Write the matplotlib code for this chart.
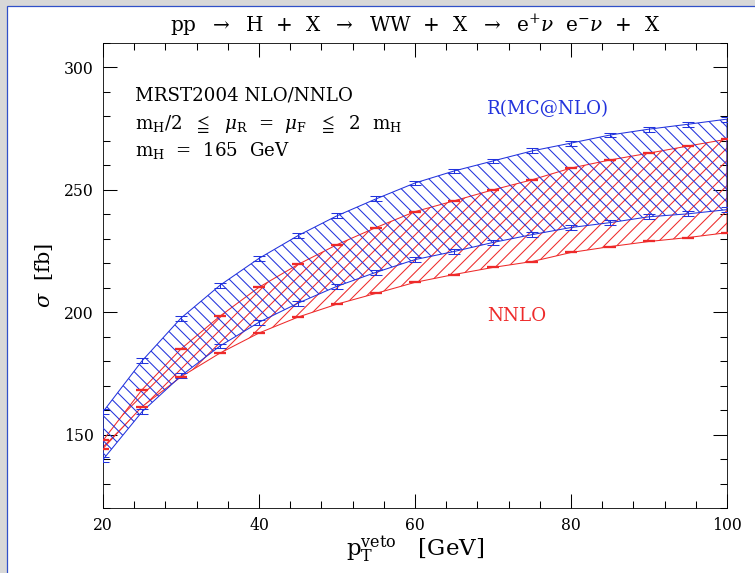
import matplotlib
matplotlib.use("Agg")
import matplotlib.pyplot as plt
from matplotlib.patches import Rectangle

# pT veto values (GeV)
ptveto = [20, 25, 30, 35, 40, 45, 50, 55, 60, 65, 70, 75, 80, 85, 90, 95, 100]

# R(MC@NLO) band (fb)
mc_hi = [159.3, 180.1, 197.6, 211.0, 222.0, 231.3, 239.4, 246.3, 252.8, 257.7,
         261.8, 265.9, 269.1, 272.4, 274.8, 276.8, 278.9]
mc_lo = [139.8, 159.3, 174.0, 186.2, 195.9, 203.7, 210.6, 216.3, 221.5, 224.8,
         228.5, 231.7, 234.6, 236.6, 239.0, 240.2, 241.9]

# NNLO band (fb)
nnlo_hi = [147.6, 168.3, 185.0, 198.4, 210.2, 219.5, 227.6, 234.6, 241.1, 245.5,
           250.0, 254.1, 258.9, 262.2, 265.0, 267.9, 270.7]
nnlo_lo = [144.3, 161.4, 173.6, 183.3, 191.5, 198.0, 203.3, 207.7, 212.2, 215.4,
           218.3, 220.7, 224.4, 226.8, 228.9, 230.5, 232.5]

blue = "#2233dd"
red = "#ee2a2a"

plt.rcParams['font.family'] = ['DejaVu Serif']
plt.rcParams['mathtext.fontset'] = 'dejavuserif'
plt.rcParams['hatch.linewidth'] = 1.0

fig = plt.figure(figsize=(755 / 75, 573 / 75), dpi=75)
fig.patch.set_facecolor("#d8d8d8")
# window-like frame
frame = Rectangle((7 / 755, -0.01), 1.0, 1 - 6 / 573 + 0.01,
                  transform=fig.transFigure, facecolor="white",
                  edgecolor="#3050c8", linewidth=1.2, zorder=-10)
fig.patches.append(frame)

ax = fig.add_axes([103 / 755, 1 - 508 / 573, 624 / 755, 465 / 573])
ax.set_zorder(5)
ax.set_facecolor("white")

ax.fill_between(ptveto, nnlo_lo, nnlo_hi, facecolor="none", edgecolor=red,
                hatch="//", linewidth=1.0, zorder=2)
ax.fill_between(ptveto, mc_lo, mc_hi, facecolor="none", edgecolor=blue,
                hatch="\\\\", linewidth=1.0, zorder=3)

# error marks on the band edges
for ys in (mc_hi, mc_lo):
    ax.errorbar(ptveto, ys, yerr=1.0, fmt="none", ecolor=blue, elinewidth=1,
                capsize=6, capthick=1, zorder=4)
for ys in (nnlo_hi, nnlo_lo):
    ax.plot(ptveto, ys, linestyle="none", marker="_", markersize=11,
            markeredgewidth=2.2, color=red, zorder=4)

ax.set_xlim(20, 100)
ax.set_ylim(120, 310)
ax.set_xticks([20, 40, 60, 80, 100])
ax.set_xticks(range(20, 101, 4), minor=True)
ax.set_yticks([150, 200, 250, 300])
ax.set_yticks(range(120, 311, 10), minor=True)
ax.tick_params(which="both", direction="in", top=True, right=True,
               labelsize=15, pad=9)
ax.tick_params(which="major", length=13, width=1)
ax.tick_params(which="minor", length=6.5, width=1)

ax.set_xlabel(r"$\mathrm{p_T^{veto}}$   [GeV]", fontsize=22, labelpad=0)
ax.set_ylabel(r"$\sigma$  [fb]", fontsize=20, labelpad=8)
ax.set_title(r"pp  $\rightarrow$  H  +  X  $\rightarrow$  WW  +  X  $\rightarrow$  e$^{+}\nu$  e$^{-}\nu$  +  X",
             fontsize=19.2, pad=11)

ax.text(24.1, 286.5, "MRST2004 NLO/NNLO", fontsize=17.5)
ax.text(24.1, 275, r"m$_\mathrm{H}$/2  $\leqq$  $\mu_\mathrm{R}$  =  $\mu_\mathrm{F}$  $\leqq$  2  m$_\mathrm{H}$", fontsize=17.5)
ax.text(24.1, 264, r"m$_\mathrm{H}$  =  165  GeV", fontsize=17.5)
ax.text(69.2, 281, "R(MC@NLO)", color=blue, fontsize=17.5)
ax.text(69.2, 196.5, "NNLO", color=red, fontsize=17.5)

fig.savefig("out.png", dpi=75, facecolor=fig.get_facecolor())
